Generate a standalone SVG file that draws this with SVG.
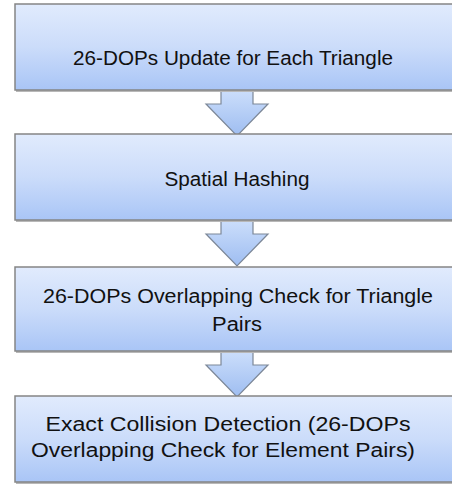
<svg xmlns="http://www.w3.org/2000/svg" width="452" height="484" viewBox="0 0 452 484">
<defs>
<linearGradient id="boxg" x1="0" y1="0" x2="0" y2="1">
<stop offset="0" stop-color="#e1ebfd"/>
<stop offset="0.5" stop-color="#cbdcfa"/>
<stop offset="1" stop-color="#a9c5f6"/>
</linearGradient>
<linearGradient id="arrg" x1="0" y1="0" x2="0" y2="1">
<stop offset="0" stop-color="#cddffb"/>
<stop offset="1" stop-color="#9ebdf1"/>
</linearGradient>
</defs>
<style>
.box{fill:url(#boxg);stroke:#858585;stroke-width:1.5}
.shadow{fill:#b8b8b8}
.arr{fill:url(#arrg);stroke:#7c8797;stroke-width:1.2;stroke-linejoin:miter}
.t{font-family:"Liberation Sans",Arial,sans-serif;font-size:20px;fill:#111;text-anchor:middle}
</style>
<g id="connectors">
<path class="arr" d="M221,89 L253,89 L253,104 L268,104 L237,136 L206,104 L221,104 Z"/>
<path class="arr" d="M221,219 L253,219 L253,234 L268,234 L237,266 L206,234 L221,234 Z"/>
<path class="arr" d="M221,350 L253,350 L253,365 L268,365 L237,397 L206,365 L221,365 Z"/>
</g>
<g id="n1">
<rect class="shadow" x="16" y="89" width="444" height="3"/>
<rect class="box" x="15" y="4" width="444" height="86"/>
<text class="t" x="233" y="65" textLength="320" lengthAdjust="spacingAndGlyphs">26-DOPs Update for Each Triangle</text>
</g>
<g id="n2">
<rect class="shadow" x="16" y="219" width="444" height="3"/>
<rect class="box" x="15" y="134" width="444" height="86"/>
<text class="t" x="237" y="186" textLength="145" lengthAdjust="spacingAndGlyphs">Spatial Hashing</text>
</g>
<g id="n3">
<rect class="shadow" x="16" y="350" width="444" height="3"/>
<rect class="box" x="15" y="267" width="444" height="84"/>
<text class="t" x="238" y="303" textLength="390" lengthAdjust="spacingAndGlyphs">26-DOPs Overlapping Check for Triangle</text>
<text class="t" x="237" y="331" textLength="50" lengthAdjust="spacingAndGlyphs">Pairs</text>
</g>
<g id="n4">
<rect class="shadow" x="16" y="481" width="444" height="3"/>
<rect class="box" x="15" y="396" width="444" height="86"/>
<text class="t" x="228" y="431" textLength="365" lengthAdjust="spacingAndGlyphs">Exact Collision Detection (26-DOPs</text>
<text class="t" x="223" y="457" textLength="384" lengthAdjust="spacingAndGlyphs">Overlapping Check for Element Pairs)</text>
</g>
</svg>
